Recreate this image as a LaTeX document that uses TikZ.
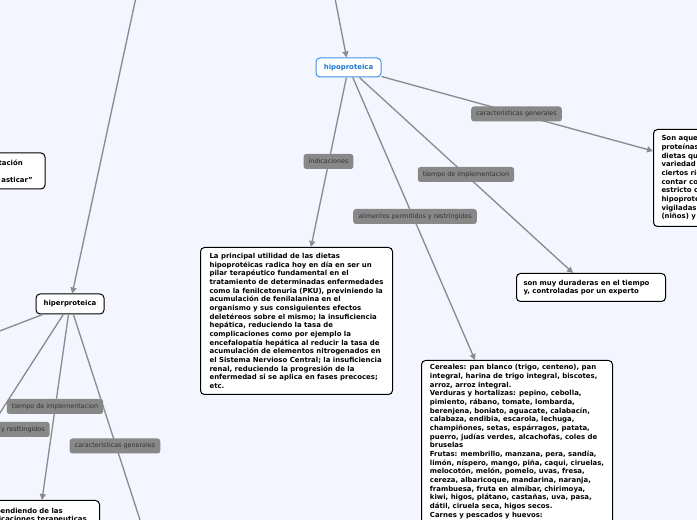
\documentclass[tikz,border=0pt]{standalone}
\usepackage{fontspec}
\setmainfont{DejaVu Sans}
\usetikzlibrary{arrows.meta}
\definecolor{bgc}{RGB}{243,246,254}
\definecolor{edgec}{RGB}{140,140,140}
\definecolor{labfill}{RGB}{136,136,136}
\definecolor{labtext}{RGB}{50,50,50}
\definecolor{hipotext}{RGB}{28,118,214}
\definecolor{hipoline}{RGB}{64,146,232}
\begin{document}
\begin{tikzpicture}[x=0.75pt,y=-0.75pt,
 conn/.style={draw=edgec,line width=1pt},
 arr/.style={conn,-{Triangle[length=4.5pt,width=4.5pt]}},
 lab/.style={fill=labfill,text=labtext,rounded corners=2pt,inner xsep=3.8pt,inner ysep=0pt,minimum height=11.25pt,font=\fontsize{4.8}{5.5}\selectfont},
 box/.style={draw=black,fill=white,rounded corners=3pt,line width=0.75pt,align=left,font=\bfseries\fontsize{5.2}{6.5}\selectfont,inner xsep=5pt,inner ysep=3pt},
 frag/.style={font=\bfseries\fontsize{5.2}{6.5}\selectfont,inner sep=0pt},
 topic/.style={fill=white,rounded corners=3pt,line width=0.75pt,font=\bfseries\fontsize{5.2}{6.5}\selectfont,inner sep=0pt}]
\fill[bgc] (0,0) rectangle (697,520);
\useasboundingbox (0,0) rectangle (697,520);
\clip (0,0) rectangle (697,520);

% topics
\node[topic,draw=hipoline,text=hipotext,minimum width=48.75pt,minimum height=14.25pt] (hipo) at (348.5,67.5) {hipoproteica};
\node[topic,draw=black,minimum width=51pt,minimum height=15pt] (hiper) at (70,304) {hiperproteica};

% boxes
\node[box,anchor=north west,minimum width=144pt,minimum height=110.25pt] (util) at (200,247) {La principal utilidad de las dietas\\
hipoprotéicas radica hoy en día en ser un\\
pilar terapéutico fundamental en el\\
tratamiento de determinadas enfermedades\\
como la fenilcetonuria (PKU), previniendo la\\
acumulación de fenilalanina en el\\
organismo y sus consiguientes efectos\\
deletéreos sobre el mismo; la insuficiencia\\
hepática, reduciendo la tasa de\\
complicaciones como por ejemplo la\\
encefalopatía hepática al reducir la tasa de\\
acumulación de elementos nitrogenados en\\
el Sistema Nervioso Central; la insuficiencia\\
renal, reduciendo la progresión de la\\
enfermedad si se aplica en fases precoces;\\
etc.};

\node[box,anchor=north west,minimum width=143.25pt] (alim) at (421,360) {Cereales: pan blanco (trigo, centeno), pan\\
integral, harina de trigo integral, biscotes,\\
arroz, arroz integral.\\
Verduras y hortalizas: pepino, cebolla,\\
pimiento, rábano, tomate, lombarda,\\
berenjena, boniato, aguacate, calabacín,\\
calabaza, endibia, escarola, lechuga,\\
champiñones, setas, espárragos, patata,\\
puerro, judías verdes, alcachofas, coles de\\
bruselas\\
Frutas: membrillo, manzana, pera, sandía,\\
limón, níspero, mango, piña, caqui, ciruelas,\\
melocotón, melón, pomelo, uvas, fresa,\\
cereza, albaricoque, mandarina, naranja,\\
frambuesa, fruta en almíbar, chirimoya,\\
kiwi, higos, plátano, castañas, uva, pasa,\\
dátil, ciruela seca, higos secos.\\
Carnes y pescados y huevos:\\ \strut\\ \strut};

\node[box,anchor=north west,text width=101.25pt,inner xsep=5.25pt,minimum height=21pt] (dur) at (516,273) {son muy duraderas en el tiempo\\y, controladas por un experto};

\node[box,anchor=north west,minimum height=72.75pt,inner xsep=6pt] (son) at (653,129) {Son aquellas\\
proteínas\\
dietas que\\
variedad de\\
ciertos ries\\
contar con\\
estricto con\\
hipoprotéicas\\
vigiladas\\
(niños) y};

\node[box,minimum width=101.25pt,minimum height=27pt] (masti) at (-22.5,171) {};
\node[frag,anchor=base east] (masti1) at (23,165.5) {tación};
\node[frag,anchor=base east] (masti2) at (33,182.5) {asticar”};

\node[box,anchor=north east,minimum width=135pt,minimum height=45pt] (depend) at (100,500) {};
\node[frag,anchor=base east] (depend1) at (63,513) {dependiendo de las};
\node[frag,anchor=base east] (depend2) at (87,521.5) {aplicaciones terapeuticas};

% connectors
\coordinate (in1) at (138,-12);
\coordinate (in2) at (333,-12);
\coordinate (hl) at (-20,338.6);
\coordinate (hdl) at (-40,475);
\coordinate (hb) at (146.5,540);
\draw[arr] (in1) -- (hiper);
\draw[arr] (in2) -- (hipo);
\draw[arr] (hipo) -- (util.north -| 311,0);
\draw[arr] (hipo) -- (alim.north -| 475,0);
\draw[arr] (hipo) -- (dur.north -| 573,0);
\draw[arr] (hipo) -- (son.west |- 0,151);
\draw[arr] (hiper) -- (hl);
\draw[arr] (hiper) -- (hdl);
\draw[arr] (hiper) -- (depend.north -| 42,0);
\draw[arr] (hiper) -- (hb);

% labels
\node[lab] (l1) at (328.5,161.5) {indicaciones};
\node[lab] (l2) at (415,216.5) {alimentos permitidos y restringidos};
\node[lab] (l3) at (466,174.5) {tiempo de implementacion};
\node[lab] (l4) at (516.5,114) {caracteristicas generales};
\node[lab] (l5) at (55,406.5) {tiempo de implementacion};
\node[lab,anchor=east] (l6) at (50,429.5) {alimentos permitidos y resttingidos};
\node[lab] (l7) at (115,446) {caracteristicas generales};
\end{tikzpicture}
\end{document}
